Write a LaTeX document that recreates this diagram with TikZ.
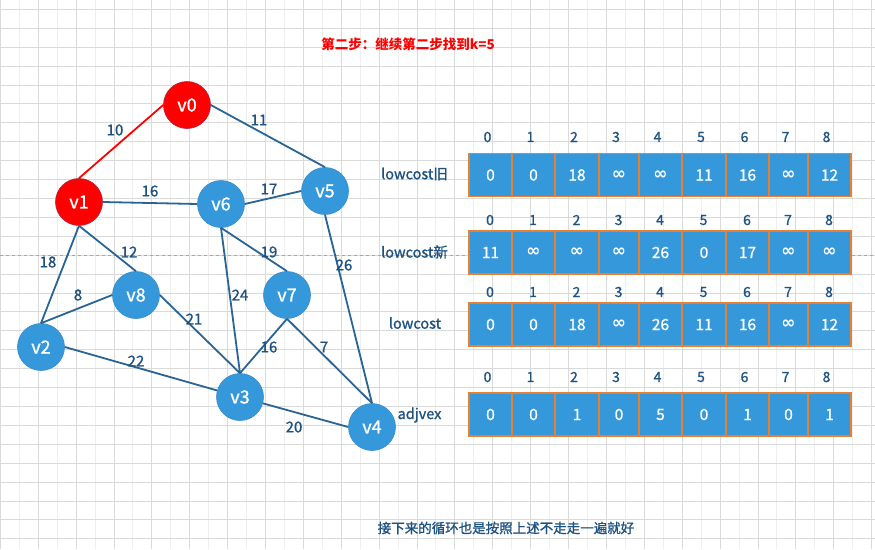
\documentclass[tikz,border=0pt]{standalone}
\usepackage{fontspec}
\setmainfont{Noto Sans CJK SC}
\newfontfamily\medf{Noto Sans CJK SC}[FakeBold=1.1]
\newfontfamily\dejavu{DejaVu Sans}
\definecolor{txtblue}{RGB}{30,82,128}
\definecolor{edgeblue}{RGB}{42,100,148}
\definecolor{nodeblue}{RGB}{52,152,219}
\definecolor{nodeborder}{RGB}{60,140,200}
\definecolor{cellorange}{RGB}{232,128,52}
\definecolor{redfill}{RGB}{255,0,0}
\definecolor{redborder}{RGB}{170,40,70}
\definecolor{gridc}{RGB}{218,218,218}
\definecolor{gridf}{RGB}{238,238,238}
\newcommand\inft{{\dejavu\bfseries\fontsize{17}{17}\selectfont ∞}}
\begin{document}
\begin{tikzpicture}[x=1pt,y=-1pt,
  vtx/.style={circle,fill=nodeblue,draw=nodeborder,line width=0.6pt,minimum size=47pt,inner sep=0pt,text=white,font=\medf\fontsize{18}{18}\selectfont},
  vtxred/.style={vtx,fill=redfill,draw=redborder},
  edge/.style={draw=edgeblue,line width=1.8pt},
  edgered/.style={draw=red,line width=1.8pt},
  wlab/.style={text=txtblue,font=\medf\fontsize{15}{15}\selectfont,inner sep=0pt},
  cellbox/.style={rectangle,fill=nodeblue,draw=cellorange,line width=1.8pt,inner sep=0pt,outer sep=0pt,minimum height=43pt,text=white,font=\medf\fontsize{15.5}{15.5}\selectfont},
  idxlab/.style={text=txtblue,font=\medf\fontsize{14}{14}\selectfont,inner sep=0pt},
  rowlab/.style={text=txtblue,font=\medf\fontsize{14.5}{14.5}\selectfont,inner sep=0pt},
  gridline/.style={draw=gridc,line width=0.8pt},
  gridfaint/.style={draw=gridf,line width=0.8pt}
]
\useasboundingbox (0,0) rectangle (875,549);
\fill[white] (0,0) rectangle (875,549);
% grid
\foreach \k in {0,...,22} \draw[gridfaint] ({19.2+37.88*\k},0) -- ({19.2+37.88*\k},549);
\foreach \k in {0,...,28} \draw[gridline] (0,{9.3+18.91*\k}) -- (875,{9.3+18.91*\k});
\foreach \k in {0,...,23} \draw[gridline] ({0.3+37.88*\k},0) -- ({0.3+37.88*\k},549);
\coordinate (dl) at (0,255);
\coordinate (dr) at (875,255);
\draw[gray!70,dashed,line width=0.7pt] (dl) -- (dr);

% title
\node[text=red,font=\fontsize{13.5}{13.5}\selectfont\bfseries,inner sep=0pt] (title) at (408,44) {第二步：继续第二步找到k=5};

% vertices
\node[vtxred] (v0) at (187,105) {v0};
\node[vtxred] (v1) at (79,202) {v1};
\node[vtx] (v6) at (221,204) {v6};
\node[vtx] (v5) at (325,191) {v5};
\node[vtx] (v8) at (136,295) {v8};
\node[vtx] (v7) at (287,295) {v7};
\node[vtx] (v2) at (41,347) {v2};
\node[vtx] (v3) at (240,397) {v3};
\node[vtx] (v4) at (372,427) {v4};

% edges
\draw[edgered] (v0.west) -- (v1.north);
\draw[edge] (v0.east) -- (v5.north);
\draw[edge] (v1.east) -- (v6.west);
\draw[edge] (v6.east) -- (v5.west);
\draw[edge] (v1.south) -- (v2.north);
\draw[edge] (v1.south) -- (v8.north);
\draw[edge] (v6.south) -- (v7.north);
\draw[edge] (v6.south) -- (v3.north);
\draw[edge] (v5.south) -- (v4.north);
\draw[edge] (v2.north) -- (v8.west);
\draw[edge] (v8.east) -- (v3.north);
\draw[edge] (v7.south) -- (v3.north);
\draw[edge] (v7.south) -- (v4.north);
\draw[edge] (v2.east) -- (v3);
\draw[edge] (v3) -- (v4.west);

% edge weights
\node[wlab] (w10) at (115,130) {10};
\node[wlab] (w11) at (259,120) {11};
\node[wlab] (w16a) at (150,191) {16};
\node[wlab] (w17) at (269,189) {17};
\node[wlab] (w18) at (48,262) {18};
\node[wlab] (w12) at (129,252) {12};
\node[wlab] (w19) at (269,252) {19};
\node[wlab] (w26) at (344,265) {26};
\node[wlab] (w8) at (78,295) {8};
\node[wlab] (w21) at (194,319) {21};
\node[wlab] (w24) at (240,295) {24};
\node[wlab] (w16b) at (269,347) {16};
\node[wlab] (w7) at (324,347) {7};
\node[wlab] (w22) at (136,361) {22};
\node[wlab] (w20) at (294,427) {20};

% arrays
\def\xs{{469,512,555,599,639,682,726,769,808,851}}
\newcommand\cellrow[5]{%
  \foreach \v [count=\i from 0] in {#3} {
    \pgfmathsetmacro\xa{\xs[\i]}
    \pgfmathsetmacro\xb{\xs[\i+1]}
    \pgfmathsetmacro\cw{\xb-\xa}
    \node[cellbox,minimum width=\cw pt] (#1c\i) at ({(\xa+\xb)/2},#2) {\v};
    \node[idxlab] (#1i\i) at ({(\xa+\xb)/2+#5},#4) {\i};
  }%
}
\cellrow{ra}{175}{0,0,18,\inft,\inft,11,16,\inft,12}{137}{-3}
\cellrow{rb}{252.5}{11,\inft,\inft,\inft,26,0,17,\inft,\inft}{220}{-0.5}
\cellrow{rc}{324.5}{0,0,18,\inft,26,11,16,\inft,12}{292}{-0.5}
\cellrow{rd}{414.5}{0,0,1,0,5,0,1,0,1}{377}{-3}

\node[rowlab] (la) at (414.5,174) {lowcost旧};
\node[rowlab] (lb) at (414.5,252) {lowcost新};
\node[rowlab] (lc) at (415,323) {lowcost};
\node[rowlab] (ld) at (419.5,415) {adjvex};

% footer
\node[text=txtblue,font=\medf\fontsize{13.5}{13.5}\selectfont,inner sep=0pt] (foot) at (506,528) {接下来的循环也是按照上述不走走一遍就好};
\end{tikzpicture}
\end{document}
